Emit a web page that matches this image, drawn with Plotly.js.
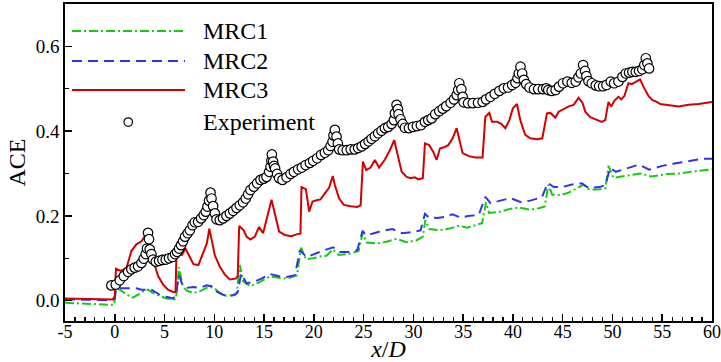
<!DOCTYPE html>
<html>
<head>
<meta charset="utf-8">
<script src="https://cdn.plot.ly/plotly-3.0.1.min.js"></script>
<style>
  html, body { margin: 0; padding: 0; background: #fff; }
  #chart { width: 721px; height: 362px; }
</style>
</head>
<body>
<div id="chart"></div>
<script>
// Streamwise distribution of ACE along x/D for three rotor configurations and the measurements

const mrc1X = [-5, -2, -0.3, -0.05, 0.1, 0.5, 1.17, 1.84, 2.34, 2.84, 3.34, 3.85, 4.52, 5.19, 5.9, 6.15, 6.45, 6.8, 7.2, 7.87,
  8.54, 9.21, 9.88, 10.55, 11.22, 11.89, 12.25, 12.56, 12.89, 13.57, 14.24, 14.9, 15.57, 16.24, 16.91, 17.58, 18.3, 18.72,
  19.2, 19.93, 20.6, 21.27, 21.9, 22.5, 23.5, 24.5, 24.9, 25.3, 26.3, 27.3, 28.3, 29.3, 30.3, 30.95, 31.2, 31.6, 32.6, 33.6,
  34.6, 35.4, 36.2, 36.9, 37.3, 37.6, 38.6, 39.6, 40.6, 41.6, 42.6, 43.2, 43.55, 43.95, 44.8, 45.6, 46.5, 47.1, 47.6, 48.4,
  49.3, 49.6, 50.1, 51.4, 52.8, 53.9, 55.5, 56.8, 58.1, 60];
const mrc1Y = [-0.005, -0.008, -0.010, -0.010, 0.030, 0.026, 0.015, 0.007, 0.014, 0.022, 0.026, 0.018, 0.011, 0.005, 0.003,
  0.004, 0.079, 0.038, 0.024, 0.018, 0.022, 0.030, 0.032, 0.018, 0.011, 0.013, 0.018, 0.084, 0.046, 0.034, 0.040, 0.048,
  0.057, 0.055, 0.052, 0.054, 0.060, 0.125, 0.098, 0.100, 0.104, 0.106, 0.121, 0.108, 0.110, 0.117, 0.160, 0.137, 0.135,
  0.139, 0.146, 0.138, 0.142, 0.151, 0.190, 0.169, 0.166, 0.170, 0.177, 0.172, 0.178, 0.183, 0.232, 0.207, 0.209, 0.216,
  0.220, 0.215, 0.218, 0.222, 0.273, 0.250, 0.249, 0.255, 0.266, 0.274, 0.263, 0.262, 0.265, 0.318, 0.290, 0.295, 0.300,
  0.293, 0.299, 0.300, 0.305, 0.310];

const mrc2X = [-5, -0.3, 0.0, 0.15, 0.83, 1.5, 2.17, 2.68, 3.18, 3.51, 4.02, 4.6, 5.19, 5.86, 6.15, 6.45, 6.8, 7.2, 7.87, 8.54,
  9.21, 9.72, 10.22, 10.88, 11.4, 12.1, 12.35, 12.7, 13.23, 13.9, 14.74, 15.57, 16.41, 17.26, 18.1, 18.6, 19.27, 20.1, 20.94,
  21.94, 22.61, 23.5, 24.36, 24.9, 25.2, 25.87, 26.88, 27.9, 28.89, 29.89, 30.73, 31.16, 31.56, 32.4, 33.24, 33.91, 34.75,
  35.5, 36.56, 37.23, 37.74, 38.74, 39.74, 40.74, 41.74, 42.91, 43.5, 44.1, 44.93, 45.94, 46.9, 47.6, 48.7, 49.3, 49.75,
  50.34, 51.34, 52.67, 53.68, 55.0, 56.35, 57.69, 59.03, 60];
const mrc2Y = [0.003, 0.001, 0.005, 0.029, 0.029, 0.029, 0.029, 0.026, 0.026, 0.028, 0.020, 0.013, 0.009, 0.005, 0.015, 0.060,
  0.037, 0.030, 0.032, 0.030, 0.036, 0.034, 0.022, 0.014, 0.010, 0.014, 0.020, 0.064, 0.041, 0.044, 0.052, 0.063, 0.058,
  0.056, 0.060, 0.119, 0.103, 0.111, 0.118, 0.126, 0.115, 0.115, 0.119, 0.165, 0.155, 0.158, 0.165, 0.169, 0.159, 0.162,
  0.166, 0.205, 0.196, 0.195, 0.198, 0.204, 0.196, 0.200, 0.202, 0.245, 0.230, 0.236, 0.242, 0.233, 0.236, 0.244, 0.278,
  0.268, 0.268, 0.274, 0.277, 0.266, 0.268, 0.273, 0.313, 0.304, 0.311, 0.321, 0.309, 0.318, 0.324, 0.330, 0.335, 0.335];

const mrc3X = [-5, -2, -0.2, 0.0, 0.12, 0.6, 1.17, 1.67, 2.17, 2.68, 3.18, 3.51, 3.85, 4.35, 4.85, 5.35, 5.8, 6.1, 6.2, 6.5,
  6.75, 7.1, 7.6, 7.9, 8.4, 8.9, 9.25, 9.5, 9.75, 10.05, 10.55, 11.05, 11.56, 12.16, 12.35, 12.5, 12.96, 13.23, 13.63, 14.07,
  14.5, 14.9, 15.75, 16.08, 16.51, 17.08, 17.75, 18.32, 18.65, 18.76, 19.2, 19.53, 19.87, 20.27, 20.67, 21.11, 21.54, 21.9,
  22.11, 22.54, 23.01, 23.69, 24.36, 24.7, 24.93, 25.26, 25.7, 26.13, 26.56, 27.14, 27.64, 28.07, 28.37, 28.82, 29.32, 29.72,
  30.15, 30.49, 30.95, 31.16, 31.59, 32.0, 32.33, 32.67, 33.07, 33.51, 33.94, 34.35, 34.61, 34.95, 35.56, 36.23, 36.95,
  37.23, 37.63, 37.9, 38.4, 38.83, 39.24, 39.64, 40.0, 40.41, 40.74, 41.24, 41.74, 42.41, 42.95, 43.42, 43.76, 44.26, 44.6,
  45.2, 45.67, 46.1, 46.6, 47.0, 47.27, 47.77, 48.43, 48.93, 49.27, 49.6, 49.87, 50.2, 50.6, 50.87, 51.2, 51.6, 51.94, 52.34,
  52.78, 53.11, 53.62, 54.02, 54.46, 54.8, 55.47, 56.64, 57.65, 58.65, 60];
const mrc3Y = [0.005, 0.004, 0.003, 0.010, 0.075, 0.070, 0.077, 0.117, 0.133, 0.140, 0.158, 0.123, 0.096, 0.058, 0.038, 0.026,
  0.021, 0.020, 0.108, 0.112, 0.108, 0.123, 0.100, 0.086, 0.084, 0.112, 0.135, 0.170, 0.140, 0.107, 0.080, 0.062, 0.050,
  0.052, 0.058, 0.176, 0.166, 0.151, 0.144, 0.151, 0.174, 0.159, 0.238, 0.205, 0.163, 0.155, 0.152, 0.157, 0.158, 0.268,
  0.263, 0.210, 0.234, 0.237, 0.239, 0.253, 0.267, 0.294, 0.273, 0.241, 0.226, 0.223, 0.221, 0.225, 0.328, 0.308, 0.314,
  0.332, 0.314, 0.333, 0.355, 0.379, 0.348, 0.304, 0.292, 0.289, 0.291, 0.286, 0.289, 0.371, 0.367, 0.351, 0.332, 0.359,
  0.362, 0.367, 0.383, 0.407, 0.381, 0.348, 0.341, 0.338, 0.338, 0.434, 0.443, 0.422, 0.422, 0.417, 0.407, 0.426, 0.454,
  0.464, 0.426, 0.391, 0.383, 0.381, 0.383, 0.442, 0.443, 0.432, 0.446, 0.454, 0.459, 0.462, 0.479, 0.466, 0.446, 0.433,
  0.426, 0.422, 0.426, 0.469, 0.458, 0.472, 0.481, 0.475, 0.483, 0.513, 0.511, 0.517, 0.522, 0.505, 0.483, 0.473, 0.469,
  0.464, 0.462, 0.458, 0.462, 0.464, 0.469];

const expX = [-0.34, 0.10, 0.50, 0.90, 1.33, 1.67, 2.0, 2.34, 2.68, 2.91, 3.11, 3.24, 3.34, 3.44, 3.51, 3.68, 3.85, 4.12, 4.45,
  4.79, 5.12, 5.45, 5.80, 6.06, 6.26, 6.46, 6.66, 6.86, 7.06, 7.33, 7.54, 7.81, 8.04, 8.37, 8.67, 8.94, 9.14, 9.31, 9.47,
  9.62, 9.72, 9.88, 10.05, 10.22, 10.55, 10.88, 11.22, 11.56, 11.9, 12.23, 12.56, 12.89, 13.16, 13.40, 13.63, 13.97, 14.30,
  14.64, 14.97, 15.24, 15.51, 15.65, 15.74, 15.78, 15.91, 16.0, 16.11, 16.31, 16.51, 16.85, 17.26, 17.66, 17.99, 18.42,
  18.79, 19.17, 19.60, 19.93, 20.33, 20.73, 21.11, 21.44, 21.68, 21.88, 21.98, 22.11, 22.28, 22.41, 22.54, 22.9, 23.3,
  23.7, 24.1, 24.45, 24.8, 25.15, 25.5, 25.8, 26.13, 26.46, 26.80, 27.14, 27.47, 27.81, 28.04, 28.14, 28.31, 28.45, 28.51,
  28.71, 28.92, 29.15, 29.55, 29.95, 30.35, 30.75, 31.16, 31.49, 31.83, 32.2, 32.6, 32.95, 33.3, 33.74, 34.07, 34.35, 34.5,
  34.61, 34.82, 34.95, 35.05, 35.49, 35.96, 36.49, 36.96, 37.30, 37.74, 38.17, 38.64, 39.08, 39.51, 39.92, 40.26, 40.46,
  40.59, 40.76, 40.93, 41.10, 41.33, 41.67, 42.11, 42.54, 43.01, 43.35, 43.55, 43.89, 44.29, 44.63, 45.03, 45.47, 45.91,
  46.31, 46.58, 46.82, 47.05, 47.25, 47.38, 47.59, 47.92, 48.32, 48.66, 49.06, 49.40, 49.83, 50.17, 50.60, 51.00, 51.34,
  51.67, 52.00, 52.34, 52.67, 53.00, 53.2, 53.35, 53.51, 53.68];
const expY = [0.036, 0.038, 0.048, 0.058, 0.068, 0.074, 0.078, 0.081, 0.089, 0.099, 0.110, 0.123, 0.160, 0.145, 0.121, 0.110,
  0.097, 0.092, 0.094, 0.096, 0.097, 0.100, 0.103, 0.110, 0.115, 0.123, 0.131, 0.140, 0.151, 0.159, 0.166, 0.178, 0.185,
  0.186, 0.194, 0.202, 0.210, 0.222, 0.236, 0.255, 0.241, 0.223, 0.206, 0.192, 0.190, 0.194, 0.200, 0.206, 0.212, 0.219,
  0.225, 0.232, 0.241, 0.251, 0.261, 0.269, 0.277, 0.285, 0.288, 0.292, 0.304, 0.316, 0.330, 0.345, 0.328, 0.318, 0.312,
  0.299, 0.289, 0.285, 0.291, 0.299, 0.304, 0.310, 0.314, 0.320, 0.325, 0.330, 0.336, 0.344, 0.349, 0.355, 0.365, 0.375,
  0.390, 0.403, 0.387, 0.371, 0.357, 0.355, 0.355, 0.357, 0.357, 0.360, 0.364, 0.370, 0.376, 0.382, 0.388, 0.395, 0.401,
  0.407, 0.410, 0.417, 0.426, 0.442, 0.462, 0.452, 0.440, 0.428, 0.417, 0.408, 0.407, 0.410, 0.412, 0.414, 0.422, 0.426,
  0.430, 0.440, 0.447, 0.453, 0.459, 0.467, 0.475, 0.485, 0.497, 0.513, 0.499, 0.481, 0.468, 0.466, 0.466, 0.467, 0.469,
  0.475, 0.481, 0.488, 0.495, 0.501, 0.503, 0.509, 0.514, 0.525, 0.536, 0.552, 0.536, 0.521, 0.511, 0.503, 0.499, 0.499,
  0.499, 0.501, 0.497, 0.495, 0.497, 0.505, 0.513, 0.517, 0.514, 0.517, 0.527, 0.536, 0.556, 0.542, 0.530, 0.518, 0.513,
  0.508, 0.506, 0.506, 0.509, 0.517, 0.513, 0.517, 0.528, 0.536, 0.538, 0.540, 0.540, 0.542, 0.546, 0.556, 0.572, 0.560,
  0.548];

const seriesNames = ['MRC1', 'MRC2', 'MRC3', 'Experiment'];
const yTickVals = [0, 0.2, 0.4, 0.6];
const yTickText = ['0.0', '0.2', '0.4', '0.6'];
const xTickVals = [-5, 0, 5, 10, 15, 20, 25, 30, 35, 40, 45, 50, 55, 60];
const xTickText = ['-5', '0', '5', '10', '15', '20', '25', '30', '35', '40', '45', '50', '55', '60'];

const GREEN = '#11cc11', BLUE = '#3333ee', RED = '#d40000';
const DASH_DOT = '9px,3px,2px,3px';
const DASH = '10px,6px';
const SERIF = '"Liberation Serif"';

const traces = [
  { x: mrc1X, y: mrc1Y, name: seriesNames[0], mode: 'lines', line: { color: GREEN, width: 2, dash: DASH_DOT } },
  { x: mrc2X, y: mrc2Y, name: seriesNames[1], mode: 'lines', line: { color: BLUE, width: 2, dash: DASH } },
  { x: mrc3X, y: mrc3Y, name: seriesNames[2], mode: 'lines', line: { color: RED, width: 2 } },
  { x: expX, y: expY, name: seriesNames[3], mode: 'markers',
    marker: { symbol: 'circle', size: 9.5, color: '#ffffff', line: { color: '#000000', width: 1.2 } } }
];

// Key drawn in pixel space inside the plotting frame
const W = 721, H = 362, M = { l: 65, r: 9, t: 4, b: 41 };
const pw = W - M.l - M.r, ph = H - M.t - M.b;
const px = v => (v - M.l) / pw;
const py = v => (H - M.b - v) / ph;

const keyRows = [
  { y: 31, kind: 'line', color: GREEN, dash: DASH_DOT },
  { y: 61, kind: 'line', color: BLUE, dash: DASH },
  { y: 90, kind: 'line', color: RED, dash: 'solid' },
  { y: 122, kind: 'marker' }
];
const shapes = [];
const annotations = [];
keyRows.forEach((row, i) => {
  if (row.kind === 'line') {
    shapes.push({ type: 'line', xref: 'paper', yref: 'paper', x0: px(72), x1: px(185), y0: py(row.y), y1: py(row.y),
      line: { color: row.color, width: 2, dash: row.dash } });
  } else {
    shapes.push({ type: 'circle', xref: 'paper', yref: 'paper', x0: px(124), x1: px(132.5), y0: py(126.3), y1: py(117.8),
      fillcolor: '#ffffff', line: { color: '#000000', width: 1.2 } });
  }
  annotations.push({ xref: 'paper', yref: 'paper', x: px(201), y: py(row.y), xanchor: 'left', yanchor: 'middle',
    text: seriesNames[i], showarrow: false, font: { family: SERIF, size: 24, color: '#000' } });
});

const layout = {
  width: W, height: H,
  margin: M,
  font: { family: SERIF, color: '#000' },
  paper_bgcolor: '#ffffff', plot_bgcolor: '#ffffff',
  showlegend: false,
  xaxis: {
    range: [-5, 60], tickvals: xTickVals, ticktext: xTickText, ticks: 'inside', ticklen: 7, tickwidth: 1.5, tickcolor: '#000',
    minor: { dtick: 1, ticks: 'inside', ticklen: 4, tickwidth: 1.2, tickcolor: '#000' },
    showline: true, linecolor: '#000', linewidth: 1.8, mirror: true, showgrid: false, zeroline: false,
    ticklabeloverflow: 'allow', ticklabelstandoff: -6,
    tickfont: { family: SERIF, size: 18, color: '#000' },
    title: { text: '<i>x</i>/<i>D</i>', font: { family: SERIF, size: 24, color: '#000' }, standoff: 0 }
  },
  yaxis: {
    range: [-0.048, 0.70], tickvals: yTickVals, ticktext: yTickText, ticks: 'inside', ticklen: 7, tickwidth: 1.5, tickcolor: '#000',
    minor: { dtick: 0.1, ticks: 'inside', ticklen: 4, tickwidth: 1.2, tickcolor: '#000' },
    showline: true, linecolor: '#000', linewidth: 1.8, mirror: true, showgrid: false, zeroline: false,
    tickfont: { family: SERIF, size: 19, color: '#000' },
    title: { text: 'ACE', font: { family: SERIF, size: 24, color: '#000' }, standoff: 3 }
  },
  shapes: shapes,
  annotations: annotations
};

Plotly.newPlot('chart', traces, layout, { staticPlot: true, displayModeBar: false });
</script>
</body>
</html>
